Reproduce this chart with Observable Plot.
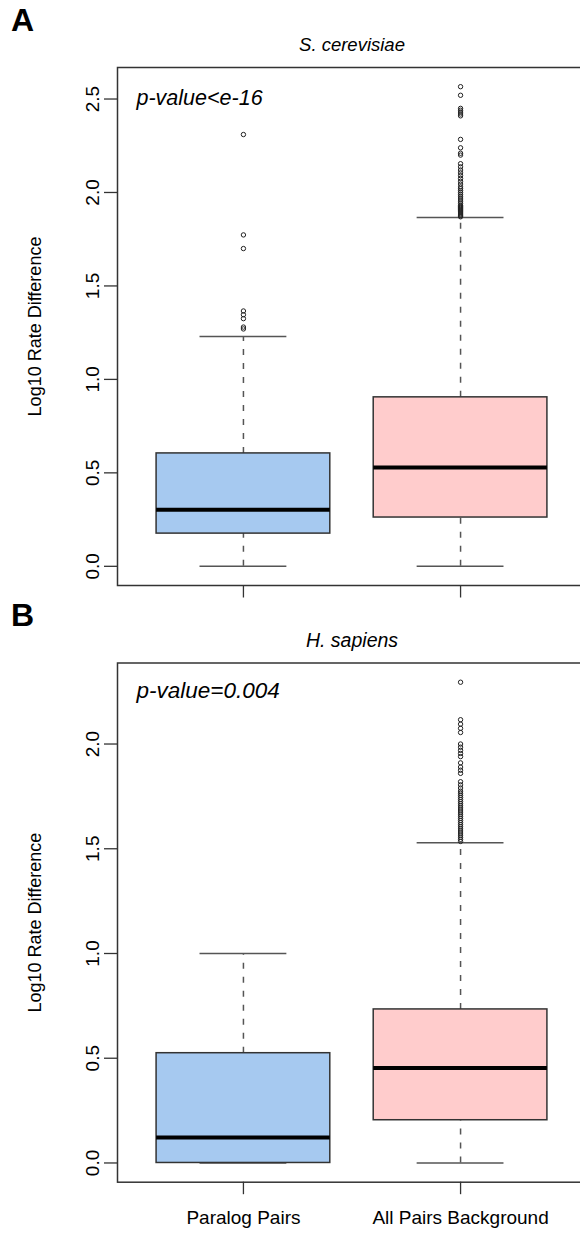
<!DOCTYPE html>
<html><head><meta charset="utf-8">
<script src="https://cdn.jsdelivr.net/npm/d3@7"></script>
<script src="https://cdn.jsdelivr.net/npm/@observablehq/plot@0.6"></script>
<style>
body{margin:0;background:#fff;overflow:hidden;width:580px}
svg{display:block}
</style></head><body><div id="chart"></div>
<script>
// ---- data ----
const categories = ["Paralog Pairs", "All Pairs Background"];
const yTicks = [0, 0.5, 1, 1.5, 2, 2.5];
const yTickLabels = ["0.0", "0.5", "1.0", "1.5", "2.0", "2.5"];
const bTicks = [0, 0.5, 1, 1.5, 2];
const bTickLabels = ["0.0", "0.5", "1.0", "1.5", "2.0"];

// Panel A: S. cerevisiae
const aLow = [0, 0];
const aQ1 = [0.175, 0.261];
const aMedian = [0.302, 0.529];
const aQ3 = [0.604, 0.904];
const aHigh = [1.23, 1.866];
const aOutParalog = [1.27, 1.28, 1.325, 1.346, 1.366, 1.70, 1.773, 2.31];
const aOutBackground = [1.87, 1.875, 1.88, 1.885, 1.89, 1.895, 1.90, 1.905, 1.91, 1.915, 1.92, 1.925, 1.93, 1.94, 1.95, 1.96, 1.97, 1.98, 1.99, 2.00, 2.01, 2.02, 2.03, 2.045, 2.06, 2.075, 2.09, 2.105, 2.12, 2.137, 2.154, 2.20, 2.21, 2.239, 2.284, 2.41, 2.42, 2.43, 2.44, 2.45, 2.52, 2.566];

// Panel B: H. sapiens
const bLow = [0, 0];
const bQ1 = [0, 0.204];
const bMedian = [0.121, 0.453];
const bQ3 = [0.524, 0.733];
const bHigh = [1.0, 1.529];
const bOutParalog = [];
const bOutBackground = [1.535, 1.545, 1.555, 1.565, 1.575, 1.585, 1.595, 1.605, 1.615, 1.625, 1.635, 1.645, 1.655, 1.665, 1.675, 1.685, 1.695, 1.705, 1.715, 1.725, 1.735, 1.745, 1.755, 1.765, 1.775, 1.79, 1.805, 1.82, 1.86, 1.875, 1.89, 1.91, 1.94, 1.955, 1.97, 1.985, 2.0, 2.055, 2.075, 2.095, 2.116, 2.295];

const boxColors = ["#a6c9f0", "#ffcccc"];
const font = "'Liberation Sans', Arial, Helvetica, sans-serif";

function panel(cfg) {
  const idx = categories.map((_, i) => i);
  const outliers = [];
  cfg.out.forEach((arr, i) => arr.forEach(v => outliers.push({i, v})));
  const all = [...cfg.low, ...cfg.high, ...outliers.map(d => d.v)];
  const mn = d3.min(all), mx = d3.max(all);
  const pad = 0.04 * (mx - mn);
  const pos = i => i + 1;
  const T = {lineAnchor: "middle", fill: "#000"};
  return Plot.plot({
    width: 580,
    height: cfg.height,
    marginLeft: 117,
    marginRight: -6,
    marginTop: cfg.marginTop,
    marginBottom: cfg.marginBottom,
    x: {domain: [0.42, 2.58], axis: null},
    y: {domain: [mn - pad, mx + pad], axis: null},
    style: {fontFamily: font, fontSize: "19px", color: "#000", background: "#fff"},
    marks: [
      Plot.frame({stroke: "#333", strokeWidth: 1.5}),
      Plot.axisY({ticks: cfg.ticks, tickSize: 13, tickFormat: () => "", stroke: "#333", strokeWidth: 1.3, label: null}),
      Plot.text(cfg.ticks, {...T, y: d => d, text: (d, j) => cfg.tickLabels[j], frameAnchor: "left", textAnchor: "middle", dx: -25, rotate: -90, fontSize: 19}),
      Plot.axisX({ticks: [1, 2], tickSize: 12.5, tickPadding: 16, stroke: "#333", strokeWidth: 1.3, label: null,
        tickFormat: d => cfg.showLabels ? categories[d - 1] : "", fontSize: 19}),
      // whiskers
      Plot.ruleX(idx, {x: pos, y1: i => cfg.q3[i], y2: i => cfg.high[i], stroke: "#555", strokeWidth: 1.5, strokeDasharray: "6,8"}),
      Plot.ruleX(idx, {x: pos, y1: i => cfg.low[i], y2: i => cfg.q1[i], stroke: "#555", strokeWidth: 1.5, strokeDasharray: "6,8"}),
      Plot.ruleY(idx, {y: i => cfg.high[i], x1: i => pos(i) - 0.2, x2: i => pos(i) + 0.2, stroke: "#555", strokeWidth: 1.5}),
      Plot.ruleY(idx, {y: i => cfg.low[i], x1: i => pos(i) - 0.2, x2: i => pos(i) + 0.2, stroke: "#555", strokeWidth: 1.5}),
      // boxes
      Plot.rect(idx, {x1: i => pos(i) - 0.4, x2: i => pos(i) + 0.4, y1: i => cfg.q1[i], y2: i => cfg.q3[i], fill: i => boxColors[i], stroke: "#333", strokeWidth: 1.5}),
      Plot.ruleY(idx, {y: i => cfg.median[i], x1: i => pos(i) - 0.4, x2: i => pos(i) + 0.4, stroke: "#000", strokeWidth: 4}),
      // outliers
      Plot.dot(outliers, {x: d => pos(d.i), y: "v", r: 2.2, stroke: "#222", strokeWidth: 1, fill: "none"}),
      // texts
      Plot.text([cfg.letter], {...T, frameAnchor: "top-left", dx: -95, dy: cfg.letterDy, fontSize: 32, fontWeight: "bold", textAnchor: "middle"}),
      Plot.text([cfg.title], {...T, frameAnchor: "top", dy: cfg.titleDy, fontSize: cfg.titleSize, fontStyle: "italic", textAnchor: "middle"}),
      Plot.text([cfg.pvalue], {...T, frameAnchor: "top-left", dx: 19, dy: cfg.pDy, fontSize: cfg.pSize, fontStyle: "italic", textAnchor: "start"}),
      Plot.text(["Log10 Rate Difference"], {...T, frameAnchor: "left", dx: -82, rotate: -90, fontSize: 18, textAnchor: "middle"})
    ]
  });
}

const chart = document.getElementById("chart");
chart.append(panel({
  height: 598, marginTop: 67, marginBottom: 13,
  low: aLow, q1: aQ1, median: aMedian, q3: aQ3, high: aHigh, out: [aOutParalog, aOutBackground],
  ticks: yTicks, tickLabels: yTickLabels, showLabels: false,
  letter: "A", letterDy: -47, title: "S. cerevisiae", titleDy: -22, titleSize: 18.5,
  pvalue: "p-value<e-16", pDy: 31, pSize: 21.5
}));
chart.append(panel({
  height: 636, marginTop: 64.5, marginBottom: 52.3,
  low: bLow, q1: bQ1, median: bMedian, q3: bQ3, high: bHigh, out: [bOutParalog, bOutBackground],
  ticks: bTicks, tickLabels: bTickLabels, showLabels: true,
  letter: "B", letterDy: -47.5, title: "H. sapiens", titleDy: -22.5, titleSize: 19.5,
  pvalue: "p-value=0.004", pDy: 27.5, pSize: 22.5
}));
</script></body></html>
